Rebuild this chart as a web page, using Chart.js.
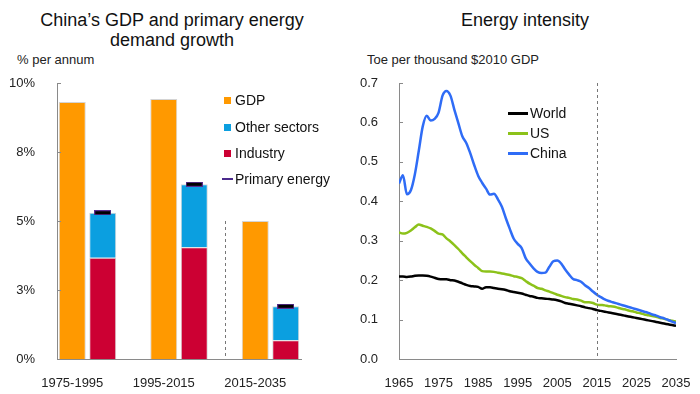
<!DOCTYPE html>
<html>
<head>
<meta charset="utf-8">
<script src="https://cdn.jsdelivr.net/npm/chart.js@4"></script>
<style>
body { margin:0; width:700px; height:394px; background:#fff; font-family:"Liberation Sans", Arial, sans-serif; color:#111; position:relative; overflow:hidden; }
.abs { position:absolute; white-space:nowrap; }
.title { font-size:18px; text-align:center; line-height:20px; color:#111; }
.unit { font-size:13px; color:#222; line-height:16px; }
.leg { font-size:14px; color:#111; line-height:16px; display:flex; align-items:center; }
.sw { display:inline-block; width:7px; height:7px; margin-right:4px; }
.ln { display:inline-block; width:20px; height:3px; margin-right:2px; }
canvas { position:absolute; top:0; }
</style>
</head>
<body>
<div class="abs title" style="left:0;width:344px;top:10px">China’s GDP and primary energy<br>demand growth</div>
<div class="abs unit" style="left:17px;top:52px">% per annum</div>
<div class="abs title" style="left:350px;width:350px;top:10px">Energy intensity</div>
<div class="abs unit" style="left:367px;top:52px">Toe per thousand $2010 GDP</div>

<canvas id="chartGdp" width="350" height="394" style="left:0"></canvas>
<canvas id="chartIntensity" width="350" height="394" style="left:350px"></canvas>

<div class="abs leg" style="left:224px;top:92px"><span class="sw" style="background:#ff9900"></span>GDP</div>
<div class="abs leg" style="left:224px;top:119px"><span class="sw" style="background:#0b9fe0"></span>Other sectors</div>
<div class="abs leg" style="left:224px;top:145px"><span class="sw" style="background:#cc0033"></span>Industry</div>
<div class="abs leg" style="left:222px;top:171px"><span style="display:inline-block;width:11px;height:2px;background:#4b2a8c;margin-right:2px"></span>Primary energy</div>

<div class="abs leg" style="left:508px;top:105px"><span class="ln" style="background:#000"></span>World</div>
<div class="abs leg" style="left:508px;top:125px"><span class="ln" style="background:#8cc21a"></span>US</div>
<div class="abs leg" style="left:508px;top:145px"><span class="ln" style="background:#2f6cf6"></span>China</div>

<script>
// --- dados do grafico da esquerda (% a.a.)
const periodos = ['1975-1995', '1995-2015', '2015-2035'];
const pib = [9.31, 9.42, 5.0];
const industria = [3.67, 4.05, 0.68];
const outrosSetores = [1.63, 2.28, 1.23];
const energiaPrimaria = [5.30, 6.33, 1.91];

// --- dados do grafico da direita (toe por mil $2010 de PIB)
const anos = Array.from({ length: 71 }, (_, i) => 1965 + i);
const mundo = [
    0.209, 0.209, 0.208, 0.209, 0.211, 0.212, 0.212, 0.211, 0.209, 0.206,
    0.203, 0.202, 0.202, 0.200, 0.199, 0.196, 0.192, 0.188, 0.185, 0.184,
    0.183, 0.178, 0.182, 0.182, 0.180, 0.178, 0.177, 0.175, 0.172, 0.170,
    0.168, 0.166, 0.163, 0.160, 0.158, 0.155, 0.154, 0.153, 0.152, 0.151,
    0.149, 0.146, 0.142, 0.140, 0.138, 0.136, 0.134, 0.131, 0.129, 0.127,
    0.124, 0.122, 0.120, 0.118, 0.116, 0.114, 0.112, 0.110, 0.108, 0.106,
    0.104, 0.102, 0.100, 0.098, 0.096, 0.094, 0.092, 0.090, 0.088, 0.086,
    0.084
];
const eua = [
    0.321, 0.318, 0.320, 0.326, 0.334, 0.341, 0.338, 0.335, 0.331, 0.325,
    0.318, 0.316, 0.306, 0.298, 0.289, 0.279, 0.268, 0.258, 0.248, 0.239,
    0.231, 0.223, 0.222, 0.222, 0.221, 0.219, 0.217, 0.215, 0.213, 0.210,
    0.208, 0.205, 0.198, 0.191, 0.186, 0.180, 0.178, 0.174, 0.171, 0.167,
    0.163, 0.160, 0.157, 0.155, 0.152, 0.151, 0.148, 0.144, 0.144, 0.142,
    0.138, 0.137, 0.136, 0.134, 0.133, 0.131, 0.128, 0.126, 0.123, 0.121,
    0.118, 0.116, 0.113, 0.111, 0.109, 0.107, 0.104, 0.102, 0.099, 0.097,
    0.095
];
const china = [
    0.445, 0.466, 0.418, 0.428, 0.468, 0.528, 0.590, 0.617, 0.605, 0.609,
    0.625, 0.668, 0.680, 0.668, 0.632, 0.598, 0.565, 0.548, 0.522, 0.492,
    0.465, 0.447, 0.432, 0.417, 0.419, 0.405, 0.386, 0.357, 0.330, 0.305,
    0.292, 0.281, 0.256, 0.242, 0.230, 0.221, 0.218, 0.219, 0.234, 0.248,
    0.250, 0.242, 0.227, 0.214, 0.203, 0.200, 0.196, 0.187, 0.180, 0.171,
    0.163, 0.157, 0.151, 0.147, 0.144, 0.141, 0.138, 0.135, 0.132, 0.129,
    0.126, 0.123, 0.120, 0.117, 0.113, 0.110, 0.106, 0.103, 0.099, 0.095,
    0.091
];

const corEixo = '#8a8a8a';
const corTexto = '#222';

// 3 slots por periodo: PIB, energia, vazio
const slots = [];
for (let i = 0; i < 8; i++) slots.push(i % 3 == 0 ? periodos[i / 3] : '');
function porSlot(valores, desloc) {
    const arr = new Array(8).fill(null);
    valores.forEach((v, i) => { arr[i * 3 + desloc] = v; });
    return arr;
}

// marcador da energia primaria
const marcador = document.createElement('canvas');
marcador.width = 17; marcador.height = 5;
const mc = marcador.getContext('2d');
mc.fillStyle = '#5a2d91'; mc.fillRect(0, 0, 17, 5);
mc.fillStyle = '#000'; mc.fillRect(1, 1, 15, 3);

// tracinhos internos do eixo y + linha tracejada
function pluginDecor(xTracejado, yInicio) {
    return {
        id: 'decor',
        afterDraw(chart) {
            const ctx = chart.ctx;
            const x = chart.scales.x, y = chart.scales.y;
            ctx.save();
            ctx.strokeStyle = corEixo;
            ctx.lineWidth = 1;
            y.ticks.forEach(t => {
                const py = Math.round(y.getPixelForValue(t.value)) + 0.5;
                ctx.beginPath();
                ctx.moveTo(chart.chartArea.left, py);
                ctx.lineTo(chart.chartArea.left + 4, py);
                ctx.stroke();
            });
            const px = Math.round(x.getPixelForValue(xTracejado)) + 0.5;
            ctx.strokeStyle = '#777';
            ctx.setLineDash([3, 3]);
            ctx.beginPath();
            ctx.moveTo(px, yInicio == null ? chart.chartArea.top : y.getPixelForValue(yInicio));
            ctx.lineTo(px, chart.chartArea.bottom);
            ctx.stroke();
            ctx.restore();
        }
    };
}

Chart.defaults.font.family = '"Liberation Sans", Arial, sans-serif';
Chart.defaults.font.size = 13;
Chart.defaults.color = corTexto;
Chart.defaults.animation = false;

new Chart(document.getElementById('chartGdp').getContext('2d'), {
    type: 'bar',
    data: {
        labels: slots,
        datasets: [
            {
                type: 'line', label: 'Primary energy', data: porSlot(energiaPrimaria, 1),
                showLine: false, pointStyle: marcador, pointRadius: 8, order: -1, stack: 'pe'
            },
            {
                label: 'GDP', data: porSlot(pib, 0),
                backgroundColor: '#ff9900', borderColor: '#d4d4d4', borderWidth: 1
            },
            {
                label: 'Industry', data: porSlot(industria, 1),
                backgroundColor: '#cc0033', borderColor: '#d4d4d4', borderWidth: 1
            },
            {
                label: 'Other sectors', data: porSlot(outrosSetores, 1),
                backgroundColor: '#0b9fe0', borderColor: '#d4d4d4', borderWidth: 1
            }
        ]
    },
    options: {
        responsive: false,
        barPercentage: 0.885,
        categoryPercentage: 1,
        layout: { padding: { top: 83, right: 49, left: 0, bottom: 0 } },
        plugins: { legend: { display: false }, tooltip: { enabled: false } },
        scales: {
            x: {
                stacked: true,
                grid: { display: false },
                border: { color: corEixo },
                ticks: { autoSkip: false, maxRotation: 0, padding: 9 },
                afterFit: s => { s.height = 35; }
            },
            y: {
                stacked: true, min: 0, max: 10,
                grid: { display: false },
                border: { color: corEixo },
                ticks: { stepSize: 2.5, padding: 14, callback: v => Math.round(v) + '%' },
                afterFit: s => { s.width = 57; }
            }
        }
    },
    plugins: [pluginDecor(5, 5)]
});

function serie(valores) {
    return valores.map((v, i) => ({ x: anos[i], y: v }));
}

new Chart(document.getElementById('chartIntensity').getContext('2d'), {
    type: 'line',
    data: {
        datasets: [
            { label: 'China', data: serie(china), borderColor: '#2f6cf6', borderWidth: 2.5, pointRadius: 0 },
            { label: 'US', data: serie(eua), borderColor: '#8cc21a', borderWidth: 2.5, pointRadius: 0 },
            { label: 'World', data: serie(mundo), borderColor: '#000', borderWidth: 2.5, pointRadius: 0 }
        ]
    },
    options: {
        responsive: false,
        elements: { line: { cubicInterpolationMode: 'monotone' } },
        layout: { padding: { top: 83, right: 24, left: 0, bottom: 0 } },
        plugins: { legend: { display: false }, tooltip: { enabled: false } },
        scales: {
            x: {
                type: 'linear', min: 1965, max: 2035,
                grid: { display: false },
                border: { color: corEixo },
                ticks: { stepSize: 10, maxRotation: 0, padding: 9, callback: v => String(v) },
                afterFit: s => { s.height = 35; }
            },
            y: {
                min: 0, max: 0.7,
                grid: { display: false },
                border: { color: corEixo },
                ticks: { stepSize: 0.1, padding: 13, callback: v => v.toFixed(1) },
                afterFit: s => { s.width = 49; }
            }
        }
    },
    plugins: [pluginDecor(2015, null)]
});
</script>
</body>
</html>
